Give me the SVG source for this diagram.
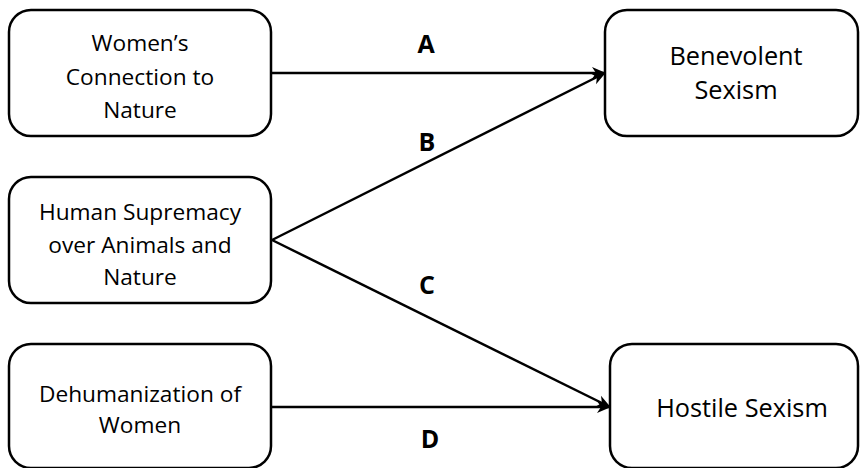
<svg xmlns="http://www.w3.org/2000/svg" width="861" height="468" viewBox="0 0 861 468">
<style>
.box{fill:#fff;stroke:#000;stroke-width:2.5}
.t{font-family:"Open Sans","Liberation Sans",sans-serif;font-size:22.7px;text-anchor:middle;fill:#000}
.r{font-size:25.3px}
.l{font-family:"Open Sans","Liberation Sans",sans-serif;font-size:25px;font-weight:bold;text-anchor:middle;fill:#000}
.c{stroke:#000;stroke-width:2.5;fill:none}
</style>
<defs>
<marker id="ah" markerWidth="14" markerHeight="14" refX="13" refY="7" orient="auto" markerUnits="userSpaceOnUse" viewBox="0 0 14 14">
<path d="M0,1 L14,7 L0,13 L4,7 z" fill="#000"/>
</marker>
</defs>
<g id="connectors">
<line class="c" x1="271" y1="73" x2="605" y2="73" marker-end="url(#ah)"/>
<line class="c" x1="272" y1="240" x2="605" y2="73" marker-end="url(#ah)"/>
<line class="c" x1="272" y1="240" x2="610" y2="407" marker-end="url(#ah)"/>
<line class="c" x1="271" y1="407" x2="610" y2="407" marker-end="url(#ah)"/>
<text class="l" x="426" y="53">A</text>
<text class="l" x="427" y="151">B</text>
<text class="l" x="427" y="294">C</text>
<text class="l" x="430" y="448">D</text>
</g>
<g id="n1">
<rect class="box" x="9" y="10" width="262" height="126" rx="22"/>
<text class="t" x="140" y="51">Women’s</text>
<text class="t" x="140" y="85">Connection to</text>
<text class="t" x="140" y="118">Nature</text>
</g>
<g id="n2">
<rect class="box" x="9" y="177" width="262" height="126" rx="22"/>
<text class="t" x="140" y="220">Human Supremacy</text>
<text class="t" x="140" y="253">over Animals and</text>
<text class="t" x="140" y="285">Nature</text>
</g>
<g id="n3">
<rect class="box" x="9" y="344" width="262" height="124" rx="22"/>
<text class="t" x="140" y="402">Dehumanization of</text>
<text class="t" x="140" y="433">Women</text>
</g>
<g id="n4">
<rect class="box" x="605" y="10" width="253" height="126" rx="22"/>
<text class="t r" x="736" y="65">Benevolent</text>
<text class="t r" x="736" y="99">Sexism</text>
</g>
<g id="n5">
<rect class="box" x="610" y="344" width="248" height="124" rx="22"/>
<text class="t r" x="742" y="417">Hostile Sexism</text>
</g>
</svg>
